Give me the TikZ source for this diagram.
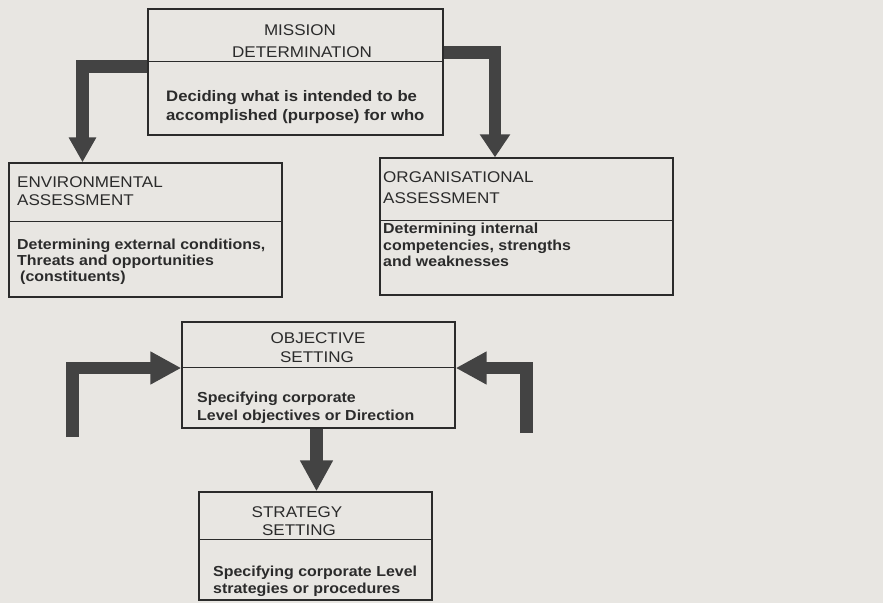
\documentclass[tikz,border=0pt]{standalone}
\usepackage{fontspec}
\setmainfont[FakeStretch=1.1]{Liberation Sans}
\usetikzlibrary{arrows.meta}
\definecolor{paper}{HTML}{E8E6E2}
\definecolor{ink}{HTML}{2B2B2B}
\definecolor{barfill}{HTML}{434343}
\begin{document}
\begin{tikzpicture}[x=1pt,y=-1pt,
  box/.style={draw=ink, line width=1.4pt, inner sep=0pt, rectangle},
  rule/.style={draw=ink, line width=1.4pt},
  title/.style={inner sep=0pt, text=ink, font=\fontsize{15.5}{18}\selectfont},
  body/.style={inner sep=0pt, text=ink, anchor=base west, font=\bfseries\fontsize{14.5}{18}\selectfont},
  bigbody/.style={body, font=\bfseries\fontsize{15.2}{18}\selectfont},
  flow/.style={draw=barfill, line width=12.5pt, -{Triangle[width=31pt,length=31pt]}},
]
\fill[paper] (0,0) rectangle (883,603);
\useasboundingbox (0,0) rectangle (883,603);

% boxes
\node[box, minimum width=295pt, minimum height=126pt] (mission) at (295.5,72) {};
\node[box, minimum width=273pt, minimum height=134pt] (env) at (145.5,230) {};
\node[box, minimum width=293pt, minimum height=137pt] (org) at (526.5,226.5) {};
\node[box, minimum width=273pt, minimum height=106pt] (obj) at (318.5,375) {};
\node[box, minimum width=233pt, minimum height=108pt] (strat) at (315.5,546) {};

% header / description dividers
\draw[rule] ([yshift=-53pt]mission.north west) -- ([yshift=-53pt]mission.north east);
\draw[rule] ([yshift=-59pt]env.north west) -- ([yshift=-59pt]env.north east);
\draw[rule] ([yshift=-63pt]org.north west) -- ([yshift=-63pt]org.north east);
\draw[rule] ([yshift=-46pt]obj.north west) -- ([yshift=-46pt]obj.north east);
\draw[rule] ([yshift=-48pt]strat.north west) -- ([yshift=-48pt]strat.north east);

% mission text
\node[title, anchor=base] (missionT1) at (300,35) {MISSION};
\node[title, anchor=base] (missionT2) at (302,57) {DETERMINATION};
\node[bigbody] (missionB1) at (166,101) {Deciding what is intended to be};
\node[bigbody] (missionB2) at (166,120) {accomplished (purpose) for who};

% environmental text
\node[title, anchor=base west] (envT1) at (17,187) {ENVIRONMENTAL};
\node[title, anchor=base west] (envT2) at (17,205) {ASSESSMENT};
\node[body] (envB1) at (17,249) {Determining external conditions,};
\node[body] (envB2) at (17,265) {Threats and opportunities};
\node[body] (envB3) at (20,281) {(constituents)};

% organisational text
\node[title, anchor=base west] (orgT1) at (383,182) {ORGANISATIONAL};
\node[title, anchor=base west] (orgT2) at (383,203) {ASSESSMENT};
\node[body] (orgB1) at (383,233) {Determining internal};
\node[body] (orgB2) at (383,250) {competencies, strengths};
\node[body] (orgB3) at (383,266) {and weaknesses};

% objective text
\node[title, anchor=base] (objT1) at (318,343) {OBJECTIVE};
\node[title, anchor=base] (objT2) at (317,362) {SETTING};
\node[body] (objB1) at (197,402) {Specifying corporate};
\node[body] (objB2) at (197,420) {Level objectives or Direction};

% strategy text
\node[title, anchor=base] (stratT1) at (297,517) {STRATEGY};
\node[title, anchor=base] (stratT2) at (299,535) {SETTING};
\node[body] (stratB1) at (213,576) {Specifying corporate Level};
\node[body] (stratB2) at (213,593) {strategies or procedures};

% free ends of the incoming arrows
\coordinate (srcL) at (72.5,437);
\coordinate (srcR) at (526.5,433);

% flow arrows
\draw[flow, -{Triangle[width=26pt,length=25pt]}] ([yshift=5.5pt]mission.west) -| ([xshift=-63pt]env.north);
\draw[flow, -{Triangle[width=29pt,length=23pt]}] ([yshift=19.5pt]mission.east) -| ([xshift=-31.5pt]org.north);
\draw[flow] (srcL) |- ([yshift=7pt]obj.west);
\draw[flow] (srcR) |- ([yshift=7pt]obj.east);
\draw[flow] ([xshift=-2pt]obj.south) -- ([xshift=1pt]strat.north);
\end{tikzpicture}
\end{document}
